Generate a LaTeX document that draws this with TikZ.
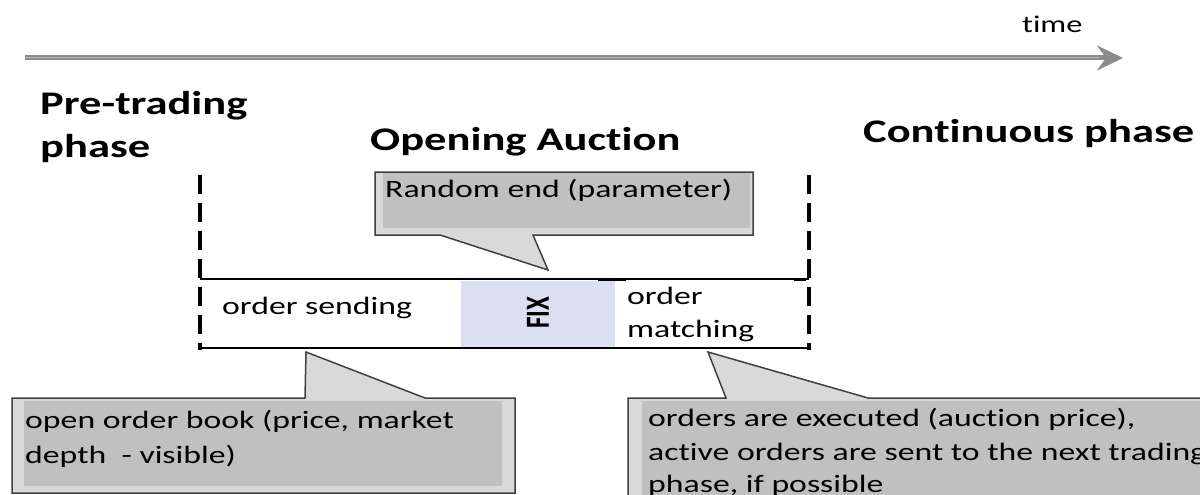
\documentclass[tikz,border=0pt]{standalone}
\usepackage{fontspec}
\usepackage{graphicx}
\setmainfont{Carlito}[FakeStretch=1.35, Ligatures=NoCommon]
\newfontfamily\plainfont{Carlito}[Ligatures=NoCommon]
\usetikzlibrary{arrows.meta}

\definecolor{calloutouter}{RGB}{217,217,217}
\definecolor{calloutinner}{RGB}{192,192,192}
\definecolor{calloutedge}{RGB}{64,64,64}
\definecolor{fixfill}{RGB}{218,224,242}
\definecolor{axisgray}{RGB}{140,140,140}

\begin{document}
\begin{tikzpicture}[x=1pt,y=-1pt,
  body/.style={font=\fontsize{25}{30}\selectfont, inner sep=0pt, anchor=base west, text=black},
  phasehead/.style={font=\fontsize{33}{40}\selectfont\bfseries, inner sep=0pt, anchor=base west, text=black},
  timelabel/.style={font=\fontsize{24}{28}\selectfont, inner sep=0pt, anchor=base west, text=black},
  callout/.style={fill=calloutouter, draw=calloutedge, line width=1.5pt, line join=miter},
  phaseedge/.style={line width=3.5pt, dash pattern=on 19pt off 9pt},
  barline/.style={line width=1.5pt}]

\useasboundingbox (0,0) rectangle (1200,495);
\clip (0,0) rectangle (1200,495);

% time axis
\coordinate (tstart) at (25,58);
\coordinate (tend) at (1123,58);
\draw[axisgray, line width=5pt, -{Stealth[length=26pt,width=25pt,inset=9pt]}] (tstart) -- (tend);
\draw[gray!55, line width=1pt] (tstart) -- ([xshift=-24pt]tend);
\node[timelabel] (time) at (1022,33) {time};

% phase titles
\node[phasehead] (pre1) at (40,114) {Pre-trading};
\node[phasehead] (pre2) at (40,157) {phase};
\node[phasehead] (open) at (370,150) {Opening Auction};
\node[phasehead] (cont) at (863,142) {Continuous phase};

% callout: random end
\draw[callout] (375,172) -- (753,172) -- (753,235) -- (533,235) -- (548,270)
  -- (440,235) -- (375,235) -- cycle;
\fill[calloutinner] (383,173) rectangle (750,228);
\node[body] (rnd) at (385,197) {Random end (parameter)};

% auction bar
\fill[fixfill] (461,281) rectangle (615,347);
\draw[barline] (200,279) -- (809,279);
\draw[barline] (200,348) -- (809,348);
\draw[line width=3pt] (598,279) -- (626,279);
\draw[line width=3pt] (794,279) -- (806,279);
\draw[phaseedge] (200,175) -- (200,350);
\draw[phaseedge] (809,175) -- (809,350);

\node[body] (send) at (222,314) {order sending};
\node (fix) at (538,313) {\scalebox{1.35}[1]{\rotatebox{90}{\plainfont\bfseries\fontsize{25}{30}\selectfont FIX}}};
\node[body] (match1) at (627,304) {order};
\node[body] (match2) at (627,337) {matching};

% callout: order book
\draw[callout] (12,398) -- (305,398) -- (306,352) -- (425,398) -- (515,398)
  -- (515,493) -- (12,493) -- cycle;
\fill[calloutinner] (24,401) rectangle (502,486);
\node[body] (book1) at (25,428) {open order book (price, market};
\node[body] (book2) at (25,463) {depth\ \ - visible)};

% callout: execution
\draw[callout] (628,398) -- (726,398) -- (708,352) -- (868,398) -- (1215,398)
  -- (1215,510) -- (628,510) -- cycle;
\fill[calloutinner] (642,401) rectangle (1215,510);
\node[body] (exec1) at (648,426) {orders are executed (auction price),};
\node[body] (exec2) at (648,460) {active orders are sent to the next trading};
\node[body] (exec3) at (648,492) {phase, if possible};
\end{tikzpicture}
\end{document}
